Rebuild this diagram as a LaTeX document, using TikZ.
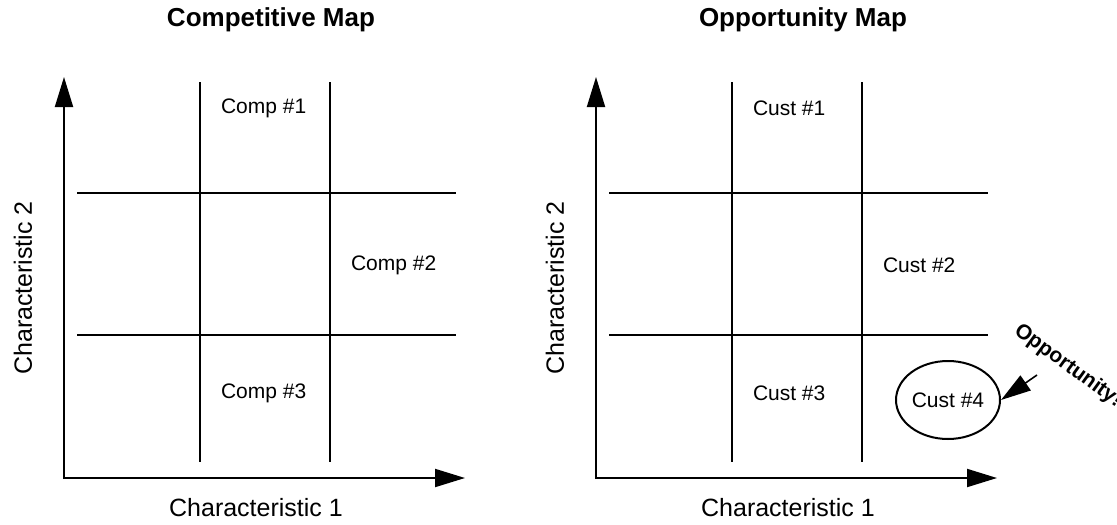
\documentclass[tikz,border=0pt]{standalone}
\usepackage{fontspec}
\setmainfont{Liberation Sans}
\usetikzlibrary{
	arrows.meta,
	positioning,
	shapes.geometric
}

\tikzset{
	maptitle/.style={font=\fontsize{26}{30}\selectfont\bfseries},
	axislabel/.style={font=\fontsize{25}{30}\selectfont},
	celllabel/.style={anchor=west,inner sep=0pt,font=\fontsize{21}{25}\selectfont}
}

\begin{document}
\begin{tikzpicture}[x=1pt,y=-1pt,>={Triangle[length=30pt,width=18pt]},line width=2pt]
	\useasboundingbox (0,0) rectangle (1117,525);
	
	\foreach \ox/\ttl/\lbl in {0/Competitive/Comp,532/Opportunity/Cust}{
		\begin{scope}[xshift=\ox pt]
		% title
		\node[maptitle] (title\lbl) at (271,20) {\ttl\ Map};
		
		% axes
		\coordinate (orig\lbl) at (64,479);
		\coordinate (ytip\lbl) at (64,77);
		\coordinate (xtip\lbl) at (465,478);
		\draw[->] (orig\lbl) -- (ytip\lbl);
		\draw[->] (63,478) -- (xtip\lbl);
		\node[axislabel,rotate=90] (ylab\lbl) at (23,288) {Characteristic 2};
		\node[axislabel] (xlab\lbl) at (256,508) {Characteristic 1};
		
		% grid
		\foreach \x in {200,330}
		\draw (\x,82) -- (\x,462);
		\foreach \y in {193,335}
		\draw (77,\y) -- (456,\y);
		
		% cells
		\node[celllabel] (\lbl one) at (220,108) {\lbl\ \#1};
		\node[celllabel] (\lbl two) at (350,265) {\lbl\ \#2};
		\node[celllabel] (\lbl three) at (220,393) {\lbl\ \#3};
		\end{scope}
	}
	
	% the gap
	\node[draw,ellipse,minimum width=104pt,minimum height=78pt,inner sep=0pt,
		font=\fontsize{21}{25}\selectfont] (cust4) at (948,400) {\raisebox{-5pt}{Cust \#4}};
	\node[rotate=-36,font=\fontsize{21}{25}\selectfont\bfseries] (opp) at (1068,366) {Opportunity!};
	\coordinate (opptail) at (1037,375);
	\draw[->,line width=1.6pt] (opptail) -- (cust4.east);
	
\end{tikzpicture}
\end{document}
